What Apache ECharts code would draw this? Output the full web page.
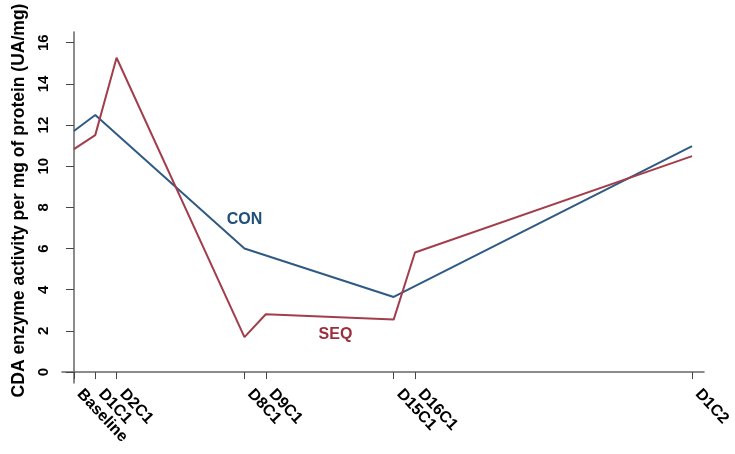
<!DOCTYPE html>
<html>
<head>
<meta charset="utf-8">
<script src="https://cdn.jsdelivr.net/npm/echarts@6/dist/echarts.min.js"></script>
<style>html,body{margin:0;padding:0;background:#fff}#c{width:735px;height:454px}</style>
</head>
<body>
<div id="c"></div>
<script>
var visitDays = [0, 1, 2, 8, 9, 15, 16, 29];
var visitLabels = ['Baseline', 'D1C1', 'D2C1', 'D8C1', 'D9C1', 'D15C1', 'D16C1', 'D1C2'];
var conDays = [0, 1, 8, 15, 29];
var conValues = [11.71, 12.49, 6.0, 3.65, 10.98];
var seqDays = [0, 1, 2, 8, 9, 15, 16, 29];
var seqValues = [10.83, 11.51, 15.27, 1.70, 2.81, 2.55, 5.81, 10.49];
var yTicks = [0, 2, 4, 6, 8, 10, 12, 14, 16];

function pairs(xs, ys) { return xs.map(function (x, i) { return [x, ys[i]]; }); }
var labelMap = {};
visitDays.forEach(function (d, i) { labelMap[d] = visitLabels[i]; });
// alternate labels between two overlaid axes so none gets hidden as overlapping
var daysA = visitDays.filter(function (d, i) { return i % 2 === 0; });
var daysB = visitDays.filter(function (d, i) { return i % 2 === 1; });

var labelStyle = {
  rotate: -47, margin: 14, verticalAlign: 'bottom',
  showMinLabel: true, showMaxLabel: true, hideOverlap: false,
  color: '#000', fontFamily: 'Liberation Sans', fontWeight: 'bold', fontSize: 16,
  formatter: function (v) { return labelMap[v] || ''; }
};

var chart = echarts.init(document.getElementById('c'));
chart.setOption({
  animation: false,
  grid: { left: 62, right: 31, top: 32, bottom: 71 },
  xAxis: [
    {
      type: 'value', min: -0.56, max: 29.56, position: 'bottom',
      splitLine: { show: false },
      axisLine: { show: true, lineStyle: { color: '#666', width: 1.5 } },
      axisTick: { show: true, length: 7, customValues: visitDays, lineStyle: { color: '#444' } },
      axisLabel: Object.assign({ customValues: daysA }, labelStyle)
    },
    {
      type: 'value', min: -0.56, max: 29.56, position: 'bottom', offset: 0,
      splitLine: { show: false },
      axisLine: { show: false },
      axisTick: { show: false },
      axisLabel: Object.assign({ customValues: daysB }, labelStyle)
    }
  ],
  yAxis: {
    type: 'value', min: -0.53, max: 16.52,
    name: 'CDA enzyme activity per mg of protein (UA/mg)',
    nameLocation: 'middle', nameGap: 28,
    nameTextStyle: { color: '#000', fontFamily: 'Liberation Sans', fontWeight: 'bold', fontSize: 17.5, padding: [0, 0, 0, 14] },
    splitLine: { show: false },
    axisLine: { show: true, lineStyle: { color: '#666', width: 1.5 } },
    axisTick: { show: true, length: 8, customValues: yTicks, lineStyle: { color: '#444' } },
    axisLabel: {
      customValues: yTicks, rotate: 90, margin: 11,
      showMinLabel: true, showMaxLabel: true,
      color: '#000', fontFamily: 'Liberation Sans', fontWeight: 'bold', fontSize: 15
    }
  },
  series: [
    {
      name: 'CON', type: 'line', data: pairs(conDays, conValues), showSymbol: false,
      lineStyle: { color: '#2f5a84', width: 2 }, itemStyle: { color: '#2f5a84' },
      markPoint: {
        symbol: 'circle', symbolSize: 0,
        data: [{ coord: [8.0, 7.43] }],
        label: { show: true, position: 'inside', formatter: 'CON', color: '#204f7a',
          fontFamily: 'Liberation Sans', fontWeight: 'bold', fontSize: 16 }
      }
    },
    {
      name: 'SEQ', type: 'line', data: pairs(seqDays, seqValues), showSymbol: false,
      lineStyle: { color: '#a23e4c', width: 2 }, itemStyle: { color: '#a23e4c' },
      markPoint: {
        symbol: 'circle', symbolSize: 0,
        data: [{ coord: [12.27, 1.83] }],
        label: { show: true, position: 'inside', formatter: 'SEQ', color: '#9b2f3d',
          fontFamily: 'Liberation Sans', fontWeight: 'bold', fontSize: 16 }
      }
    }
  ]
});
</script>
</body>
</html>
